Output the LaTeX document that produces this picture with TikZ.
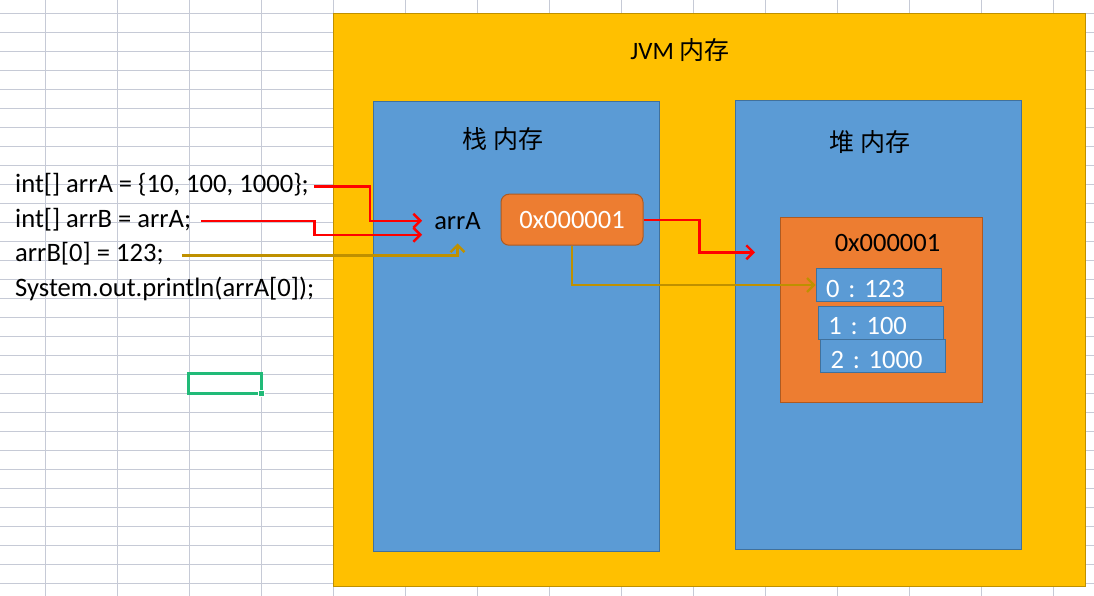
\documentclass[tikz,border=0pt]{standalone}
\usepackage{fontspec}
\setmainfont{Carlito}
\newfontfamily\cjk{Noto Sans CJK SC}
\usepackage{tikz}
\usetikzlibrary{arrows.meta, positioning}
\definecolor{jvm_gold}{HTML}{FFC000}
\definecolor{jvm_golddark}{HTML}{BF9000}
\definecolor{mem_blue}{HTML}{5B9BD5}
\definecolor{mem_bluedark}{HTML}{41719C}
\definecolor{obj_orange}{HTML}{ED7D31}
\definecolor{obj_orangedark}{HTML}{AE5A21}
\definecolor{sheet_grid}{RGB}{198,202,214}
\definecolor{sheet_green}{RGB}{33,186,120}
\tikzset{
  gridline/.style={draw=sheet_grid,line width=1pt},
  jvmbox/.style={rectangle,draw=jvm_golddark,fill=jvm_gold,line width=1pt},
  membox/.style={rectangle,draw=mem_bluedark,fill=mem_blue,line width=1pt},
  arraybox/.style={rectangle,draw=obj_orangedark,fill=obj_orange,line width=1pt},
  refbox/.style={rectangle,rounded corners=8pt,draw=obj_orangedark,fill=obj_orange,line width=1pt,text=white,font=\fontsize{26.5}{30}\selectfont},
  cell/.style={rectangle,draw=mem_bluedark,fill=mem_blue,line width=1pt,text=white,font=\fontsize{26.5}{30}\selectfont,align=left,text width=105pt,inner xsep=10pt,inner ysep=0pt,text height=24pt,text depth=0pt,minimum height=33pt},
  code/.style={font=\fontsize{26.6}{30}\selectfont,inner sep=0pt,text height=18pt,text depth=5pt},
  word/.style={font=\fontsize{26.5}{30}\selectfont,inner sep=2pt},
  title/.style={font=\fontsize{25}{30}\selectfont\cjk,inner sep=0pt},
  pointer/.style={line width=2.4pt,red,-{Straight Barb[length=7pt,width=14pt]}},
  access/.style={pointer,jvm_golddark},
}

\begin{document}
\frenchspacing
\begin{tikzpicture}[x=1pt,y=-1pt]
	    \useasboundingbox (0,0) rectangle (1094,596);
	    % sheet behind the drawing
	    \foreach \x in {45,117,...,1053} \draw[gridline] (\x,0) -- (\x,596);
	    \foreach \k in {0,...,30} \draw[gridline] (0,{13.3+19*\k}) -- (1094,{13.3+19*\k});
	    \draw[sheet_green,line width=2.6pt] (188.7,373.7) rectangle (261.7,393.3);
	    \draw[fill=sheet_green,draw=white,line width=1pt] (258.5,390.5) rectangle (264.5,396.5);
	    % memory areas
	    \node[jvmbox,minimum width=752pt,minimum height=572pt] (jvm) at (709,300) {};
	    \node[membox,minimum width=286pt,minimum height=449pt] (stack) at (516,326.5) {};
	    \node[membox,minimum width=286pt,minimum height=448pt] (heap) at (878,325) {};
	    \node[title] (jvmtitle) at (680,50) {{\rmfamily JVM} 内存};
	    \node[title] (stacktitle) at (503,139) {栈 内存};
	    \node[title] (heaptitle) at (870,142) {堆 内存};
	    \node[arraybox,minimum width=202pt,minimum height=185pt] (array) at (881.7,309.8) {};
	    \node[word] (heapaddr) at (887.5,243) {0x000001};
	    \node[cell] (cell0) at (878.7,285) {0 : 123};
	    \node[cell] (cell1) at (880.9,322.8) {1 : 100};
	    \node[cell] (cell2) at (883,356) {2 : 1000};
	    \node[refbox,minimum width=142pt,minimum height=51pt] (ref) at (572,219.7) {0x000001};
	    \node[word] (arrA) at (457.5,220.7) {arrA};
	    \coordinate (heapin) at (755,252.3);
	    % source lines
	    \node[code,anchor=base west] (line1) at (15,193) {int[] arrA = \{10, 100, 1000\};};
	    \node[code,below right=11pt and 0pt of line1.south west] (line2) {int[] arrB = arrA;};
	    \node[code,below right=11pt and 0pt of line2.south west] (line3) {arrB[0] = 123;};
	    \node[code,below right=11pt and 0pt of line3.south west] (line4) {System.out.println(arrA[0]);};
	    \draw[pointer] ([xshift=5pt]line1.east) -- ++(56,0) |- ([xshift=-10pt]arrA.west);
	    \draw[pointer] ([xshift=10pt]line2.east) -- ++(113,0) |- ([xshift=-10pt,yshift=-14pt]arrA.west);
	    \draw[access] ([xshift=18pt]line3.east) -| ([yshift=-12pt]arrA.south);
	    \draw[pointer] (ref.east) -- ++(56,0) |- (heapin);
	    \draw[access] (ref.south) |- (cell0.west);
	\end{tikzpicture}
\end{document}
